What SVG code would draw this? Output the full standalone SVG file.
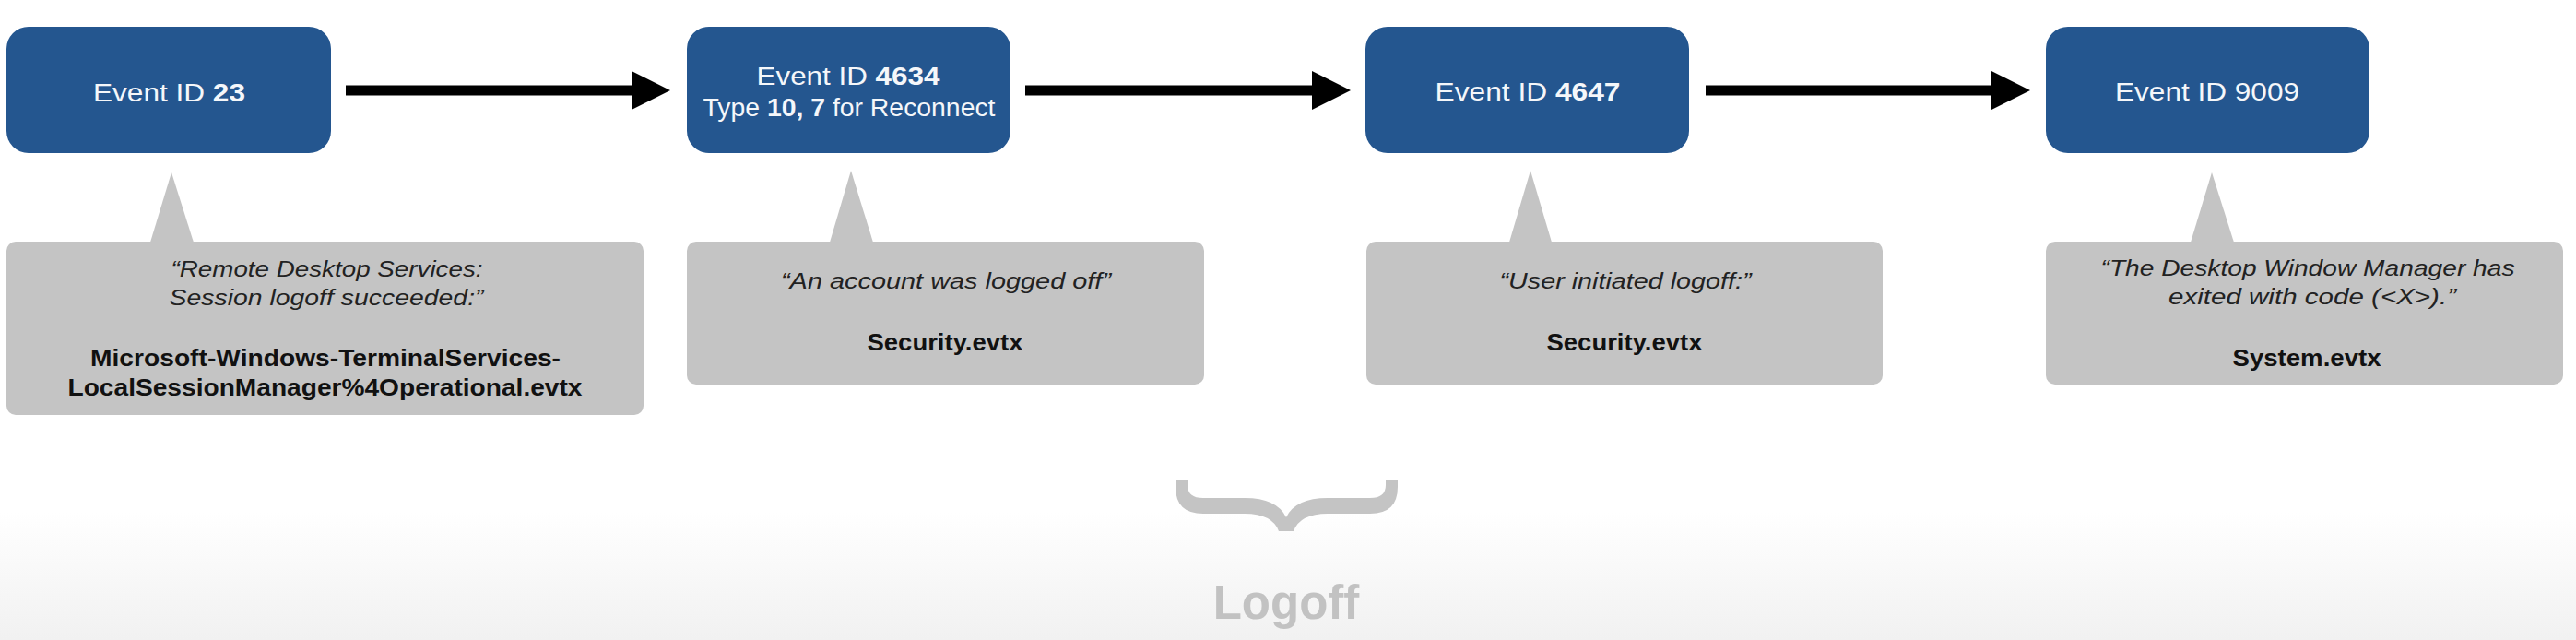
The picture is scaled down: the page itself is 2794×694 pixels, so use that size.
<svg xmlns="http://www.w3.org/2000/svg" width="2794" height="694" viewBox="0 0 2794 694">
<defs>
<linearGradient id="bg" x1="0" y1="0" x2="0" y2="1">
<stop offset="0" stop-color="#ffffff"/>
<stop offset="1" stop-color="#f1f1f1"/>
</linearGradient>
<marker id="head" viewBox="0 0 42 42" markerWidth="42" markerHeight="42" markerUnits="userSpaceOnUse" refX="0" refY="21" orient="auto">
<path d="M0 0 L42 21 L0 42 Z" fill="#000"/>
</marker>
<style>
.ev{fill:#24568f}
.evt{font-family:"Liberation Sans",Arial,sans-serif;font-size:27px;fill:#f5f7fa;text-anchor:middle}
.b{font-weight:bold}
.call{fill:#c4c4c4}
.q{font-family:"Liberation Sans",Arial,sans-serif;font-size:23px;font-style:italic;fill:#222;text-anchor:middle}
.f{font-family:"Liberation Sans",Arial,sans-serif;font-size:25.5px;font-weight:bold;fill:#111;text-anchor:middle}
.conn{stroke:#000;stroke-width:11;fill:none}
</style>
</defs>
<rect x="0" y="0" width="2794" height="694" fill="#ffffff"/>
<rect x="0" y="555" width="2794" height="139" fill="url(#bg)"/>

<g id="connectors">
<line class="conn" x1="375" y1="98" x2="685" y2="98" marker-end="url(#head)"/>
<line class="conn" x1="1112" y1="98" x2="1423" y2="98" marker-end="url(#head)"/>
<line class="conn" x1="1850" y1="98" x2="2160" y2="98" marker-end="url(#head)"/>
</g>

<g id="event23">
<rect class="ev" x="7" y="29" width="352" height="137" rx="24"/>
<text class="evt" x="183.5" y="110" textLength="165" lengthAdjust="spacingAndGlyphs">Event ID <tspan class="b">23</tspan></text>
</g>
<g id="event4634">
<rect class="ev" x="745" y="29" width="351" height="137" rx="24"/>
<text class="evt" x="920" y="92" textLength="199" lengthAdjust="spacingAndGlyphs">Event ID <tspan class="b">4634</tspan></text>
<text class="evt" x="921" y="126" textLength="317" lengthAdjust="spacingAndGlyphs">Type <tspan class="b">10, 7</tspan> for Reconnect</text>
</g>
<g id="event4647">
<rect class="ev" x="1481" y="29" width="351" height="137" rx="24"/>
<text class="evt" x="1657" y="109" textLength="201" lengthAdjust="spacingAndGlyphs">Event ID <tspan class="b">4647</tspan></text>
</g>
<g id="event9009">
<rect class="ev" x="2219" y="29" width="351" height="137" rx="24"/>
<text class="evt" x="2394" y="109" textLength="200" lengthAdjust="spacingAndGlyphs">Event ID 9009</text>
</g>

<g id="note23">
<path class="call" d="M186 187 L211 266 L162 266 Z"/>
<rect class="call" x="7" y="262" width="691" height="188" rx="10"/>
<text class="q" x="354.5" y="300" textLength="338" lengthAdjust="spacingAndGlyphs">“Remote Desktop Services:</text>
<text class="q" x="354" y="331" textLength="341" lengthAdjust="spacingAndGlyphs">Session logoff succeeded:”</text>
<text class="f" x="353" y="397" textLength="510" lengthAdjust="spacingAndGlyphs">Microsoft-Windows-TerminalServices-</text>
<text class="f" x="352.5" y="429" textLength="558" lengthAdjust="spacingAndGlyphs">LocalSessionManager%4Operational.evtx</text>
</g>
<g id="note4634">
<path class="call" d="M923 185 L948 266 L899 266 Z"/>
<rect class="call" x="745" y="262" width="561" height="155" rx="10"/>
<text class="q" x="1026" y="313" textLength="358" lengthAdjust="spacingAndGlyphs">“An account was logged off”</text>
<text class="f" x="1025" y="380" textLength="169" lengthAdjust="spacingAndGlyphs">Security.evtx</text>
</g>
<g id="note4647">
<path class="call" d="M1660 185 L1684 266 L1636 266 Z"/>
<rect class="call" x="1482" y="262" width="560" height="155" rx="10"/>
<text class="q" x="1763" y="313" textLength="273" lengthAdjust="spacingAndGlyphs">“User initiated logoff:”</text>
<text class="f" x="1762" y="380" textLength="169" lengthAdjust="spacingAndGlyphs">Security.evtx</text>
</g>
<g id="note9009">
<path class="call" d="M2399 187 L2424 266 L2375 266 Z"/>
<rect class="call" x="2219" y="262" width="561" height="155" rx="10"/>
<text class="q" x="2503" y="299" textLength="449" lengthAdjust="spacingAndGlyphs">“The Desktop Window Manager has</text>
<text class="q" x="2508" y="330" textLength="312" lengthAdjust="spacingAndGlyphs">exited with code (&lt;X&gt;).”</text>
<text class="f" x="2502" y="397" textLength="161" lengthAdjust="spacingAndGlyphs">System.evtx</text>
</g>

<g id="logoff">
<path fill="#c4c4c4" d="M1275 521 L1288 521 L1288 526 Q1288 540 1305 540 L1350 540 Q1385 540 1395 561 Q1405 540 1440 540 L1486 540 Q1503 540 1503 526 L1503 521 L1516 521 L1516 528 Q1516 557 1486 557 L1440 557 Q1410 557 1403 576 L1387 576 Q1380 557 1350 557 L1305 557 Q1275 557 1275 528 Z"/>
<text x="1395" y="671" font-family="'Liberation Sans',Arial,sans-serif" font-size="51" font-weight="bold" fill="#c2c2c2" text-anchor="middle">Logoff</text>
</g>
</svg>
